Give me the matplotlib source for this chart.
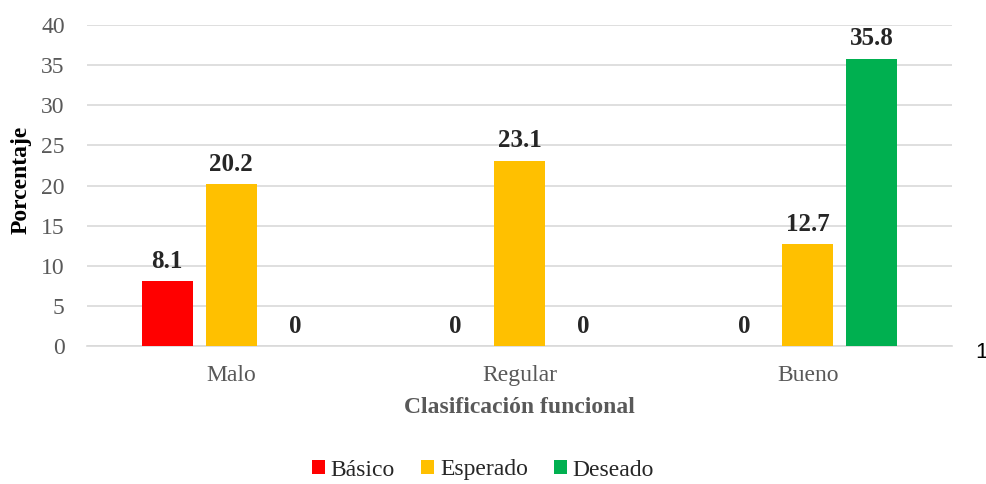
import matplotlib
matplotlib.use("Agg")
import matplotlib.pyplot as plt
import numpy as np

categories = ["Malo", "Regular", "Bueno"]
series_names = ["Básico", "Esperado", "Deseado"]
basico = [8.1, 0, 0]
esperado = [20.2, 23.1, 12.7]
deseado = [0, 0, 35.8]
colors = ["#FF0000", "#FFC000", "#00B050"]

plt.rcParams['font.family'] = ['Liberation Serif', 'DejaVu Serif']

fig = plt.figure(figsize=(9.87, 4.84), dpi=100)
ax = fig.add_axes([87/987, 1-346/484, (952-87)/987, (346-25)/484])

x = np.arange(len(categories))
width = 0.177
offset = 0.222
for i, (vals, name, c) in enumerate(zip([basico, esperado, deseado], series_names, colors)):
    pos = x + (i - 1) * offset
    ax.bar(pos, vals, width, color=c, label=name, zorder=3)
    for p, v in zip(pos, vals):
        ax.annotate(f"{v:g}", (p, v), xytext=(0, 6), textcoords="offset points",
                    ha="center", va="bottom", fontsize=18, fontweight="bold", color="#262626")

ax.set_xlim(-0.5, 2.5)
ax.set_ylim(0, 40)
ax.set_yticks(range(0, 41, 5))
ax.set_xticks(x)
ax.set_xticklabels(categories)
ax.tick_params(axis='both', length=0, labelsize=17, colors="#595959")
ax.tick_params(axis='x', pad=14)
ax.tick_params(axis='y', pad=16)
ax.grid(axis='y', color="#D9D9D9", linewidth=1.2, zorder=0)
for s in ["top", "right", "left"]:
    ax.spines[s].set_visible(False)
ax.spines["bottom"].set_color("#D9D9D9")
ax.spines["bottom"].set_linewidth(1.2)

ax.set_ylabel("Porcentaje", fontsize=17, fontweight="bold", color="#000000")
ax.yaxis.set_label_coords((32-87)/865, (346-180)/321)
ax.set_xlabel("Clasificación funcional", fontsize=17, fontweight="bold", color="#595959")
ax.xaxis.set_label_coords(0.5, (346-397)/321)

fig.legend(loc="center", bbox_to_anchor=(483/987, 1-470/484), ncol=3, frameon=False,
           fontsize=17, handlelength=0.55, handleheight=0.55, handletextpad=0.25, columnspacing=1.1,
           labelcolor="#262626")

fig.text(975/987, 1-352/484, "1", fontsize=16, color="#000000", ha="left", va="center",
         family=["Liberation Sans", "DejaVu Sans"])

fig.savefig("out.png", dpi=100)
